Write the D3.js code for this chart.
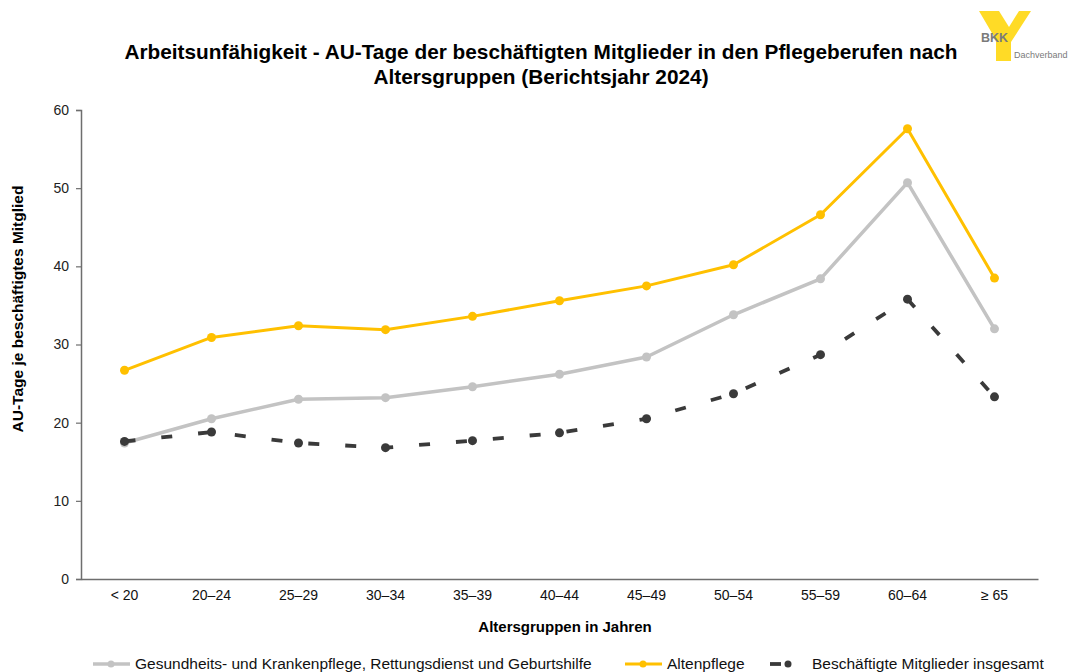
<!DOCTYPE html>
<html>
<head>
<meta charset="utf-8">
<script src="https://cdn.jsdelivr.net/npm/d3@7"></script>
<style>
  body { margin: 0; background: #fff; }
  svg { font-family: "Liberation Sans", Arial, sans-serif; }
</style>
</head>
<body>
<svg id="chart" width="1079" height="672"></svg>
<script>
// data
var categories = ["< 20", "20–24", "25–29", "30–34", "35–39", "40–44", "45–49", "50–54", "55–59", "60–64", "≥ 65"];
var gesundheit = [17.4, 20.5, 23.0, 23.2, 24.6, 26.2, 28.4, 33.8, 38.4, 50.7, 32.0];
var altenpflege = [26.7, 30.9, 32.4, 31.9, 33.6, 35.6, 37.5, 40.2, 46.6, 57.6, 38.5];
var insgesamt = [17.6, 18.8, 17.4, 16.8, 17.7, 18.7, 20.5, 23.7, 28.7, 35.8, 23.3];
var yTicks = [0, 10, 20, 30, 40, 50, 60];
var seriesNames = ["Gesundheits- und Krankenpflege, Rettungsdienst und Geburtshilfe", "Altenpflege", "Beschäftigte Mitglieder insgesamt"];

var MARGIN_LEFT = 81, MARGIN_RIGHT = 1038, TOP = 110, BOTTOM = 579;

var svg = d3.select("#chart");

var x = d3.scaleBand().domain(categories).range([MARGIN_LEFT, MARGIN_RIGHT]);
var y = d3.scaleLinear().domain([0, 60]).range([BOTTOM, TOP]);

// title
svg.append("text")
    .attr("x", 541).attr("y", 59)
    .attr("text-anchor", "middle")
    .style("font-weight", "bold").style("font-size", "20.8px")
    .text("Arbeitsunfähigkeit - AU-Tage der beschäftigten Mitglieder in den Pflegeberufen nach");
svg.append("text")
    .attr("x", 541).attr("y", 84)
    .attr("text-anchor", "middle")
    .style("font-weight", "bold").style("font-size", "20.8px")
    .text("Altersgruppen (Berichtsjahr 2024)");

// logo (decoration)
var logo = svg.append("g");
logo.append("polygon")
    .attr("points", "979,11 999,11 1009,27 1019,11 1031,11 1011,42 1011,61 996,61 996,40")
    .attr("fill", "#ffd500").attr("opacity", 0.85);
logo.append("text").attr("x", 981).attr("y", 42)
    .style("font-size", "12.5px").style("font-weight", "bold").style("fill", "#7a7a7a")
    .text("BKK");
logo.append("text").attr("x", 1014).attr("y", 58)
    .style("font-size", "9px").style("fill", "#7a7a7a")
    .text("Dachverband");

// axes
var yAxis = d3.axisLeft(y).tickValues(yTicks).tickSize(5).tickPadding(7);
var gy = svg.append("g").attr("transform", "translate(" + MARGIN_LEFT + ",0)").call(yAxis);
gy.select(".domain").attr("stroke", "#6e6e6e").attr("stroke-width", 1.5);
gy.selectAll(".tick line").attr("stroke", "#6e6e6e").attr("stroke-width", 1.2);
gy.selectAll("text").style("font-size", "14px").style("fill", "#222");

var xAxis = d3.axisBottom(x).tickSize(0).tickPadding(11);
var gx = svg.append("g").attr("transform", "translate(0," + BOTTOM + ")").call(xAxis);
gx.select(".domain").attr("stroke", "#6e6e6e").attr("stroke-width", 1.5);
gx.selectAll("text").style("font-size", "14px").style("fill", "#111");

// axis titles
svg.append("text")
    .attr("transform", "translate(23,309) rotate(-90)")
    .attr("text-anchor", "middle")
    .style("font-weight", "bold").style("font-size", "15.5px")
    .text("AU-Tage je beschäftigtes Mitglied");
svg.append("text")
    .attr("x", 565).attr("y", 632)
    .attr("text-anchor", "middle")
    .style("font-weight", "bold").style("font-size", "15px")
    .text("Altersgruppen in Jahren");

var cx = function (d, i) { return x(categories[i]) + x.bandwidth() / 2; };
var line = d3.line().x(cx).y(function (d) { return y(d); });

function drawSeries(values, color, width, r, dash) {
    var g = svg.append("g");
    g.append("path").datum(values)
        .attr("d", line).attr("fill", "none")
        .attr("stroke", color).attr("stroke-width", width)
        .attr("stroke-linejoin", "round")
        .attr("stroke-dasharray", dash);
    g.selectAll("circle").data(values).enter().append("circle")
        .attr("cx", cx).attr("cy", function (d) { return y(d); })
        .attr("r", r).attr("fill", color);
}

drawSeries(gesundheit, "#c3c3c3", 3.5, 4.5, null);
drawSeries(altenpflege, "#ffc000", 3, 4.5, null);
drawSeries(insgesamt, "#3a3a3a", 3.8, 4.5, "11,26");

// legend
var legend = [
    { name: seriesNames[0], color: "#c3c3c3", x: 93, w: 3.5, dash: null },
    { name: seriesNames[1], color: "#ffc000", x: 625, w: 3, dash: null },
    { name: seriesNames[2], color: "#3a3a3a", x: 770, w: 3.8, dash: "11,26" }
];
var lg = svg.selectAll(".legend").data(legend).enter().append("g")
    .attr("class", "legend")
    .attr("transform", function (d) { return "translate(" + d.x + ",664)"; });
lg.append("line").attr("x1", 0).attr("x2", 37).attr("y1", 0).attr("y2", 0)
    .attr("stroke", function (d) { return d.color; })
    .attr("stroke-width", function (d) { return d.w; })
    .attr("stroke-dasharray", function (d) { return d.dash; });
lg.append("circle").attr("cx", 18).attr("cy", 0).attr("r", 3.5)
    .attr("fill", function (d) { return d.color; });
lg.append("text").attr("x", 42).attr("y", 5)
    .style("font-size", "15.5px").style("fill", "#111")
    .text(function (d) { return d.name; });
</script>
</body>
</html>
